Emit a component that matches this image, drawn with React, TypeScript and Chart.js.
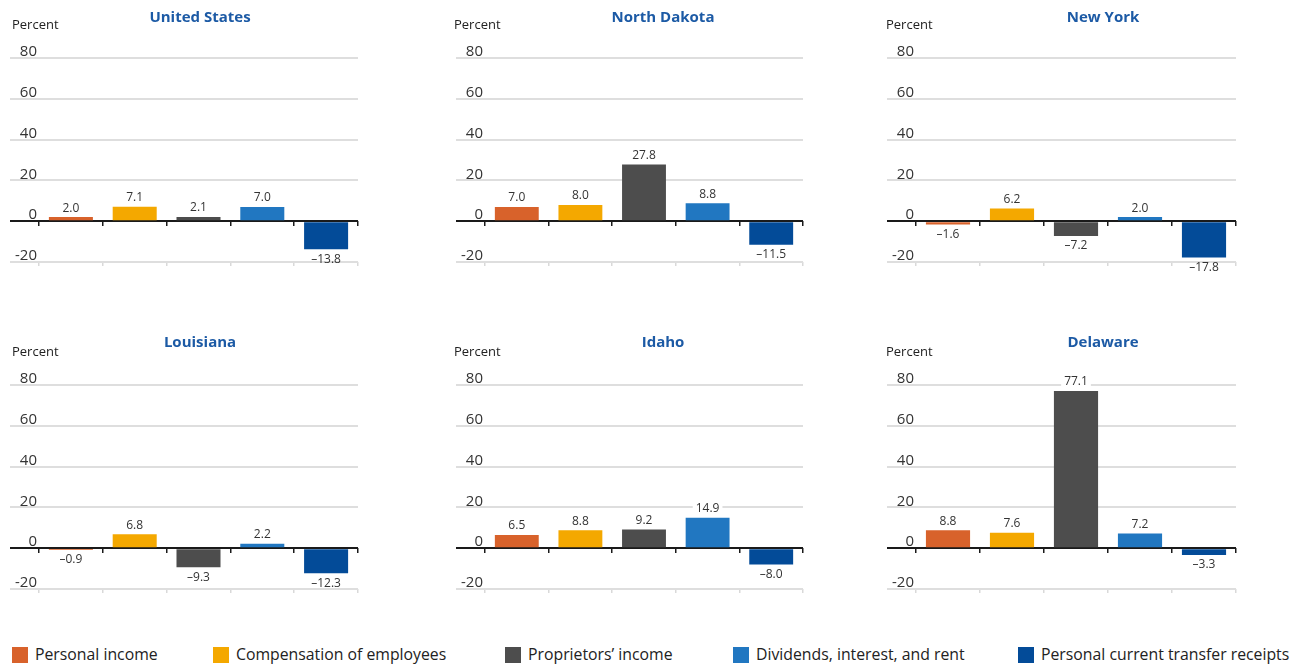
import React, { useEffect, useRef } from "react";
import { Chart, registerables } from "chart.js";

Chart.register(...registerables);

// ---------- data ----------
const categories = [
  "Personal income",
  "Compensation of employees",
  "Proprietors\u2019 income",
  "Dividends, interest, and rent",
  "Personal current transfer receipts",
];
const regions = ["United States", "North Dakota", "New York", "Louisiana", "Idaho", "Delaware"];
const unitedStates = [2.0, 7.1, 2.1, 7.0, -13.8];
const northDakota = [7.0, 8.0, 27.8, 8.8, -11.5];
const newYork = [-1.6, 6.2, -7.2, 2.0, -17.8];
const louisiana = [-0.9, 6.8, -9.3, 2.2, -12.3];
const idaho = [6.5, 8.8, 9.2, 14.9, -8.0];
const delaware = [8.8, 7.6, 77.1, 7.2, -3.3];
const regionValues = [unitedStates, northDakota, newYork, louisiana, idaho, delaware];
const yMin = -20;
const yMax = 80;
const yStep = 20;
const yAxisTitle = "Percent";

// ---------- styles / layout ----------
const colors = ["#d8622b", "#f4a800", "#4d4d4d", "#2177c1", "#034b98"];
const FONT = "'Open Sans', 'Noto Sans', sans-serif";
const colLeft = [0, 446, 877];
const colWidth = [400, 434, 452];
const colRightPad = [42, 77, 93];
const colPercentDx = [-27, -31, -30];
const rowTop = [0, 327];
const rowTitleTop = [9, 7];
const TITLE_SIZE = 15;
const CANVAS_H = 280;
const legendLeft = [12, 213, 505, 733, 1018];

const fmt = (v: number) => (v < 0 ? "\u2013" + Math.abs(v).toFixed(1) : v.toFixed(1));

const valueLabels = {
  id: "valueLabels",
  afterDatasetsDraw(chart: any) {
    const ctx = chart.ctx;
    const meta = chart.getDatasetMeta(0);
    const data = chart.data.datasets[0].data as number[];
    ctx.save();
    ctx.font = `12px ${FONT}`;
    ctx.textAlign = "center";
    ctx.textBaseline = "middle";
    meta.data.forEach((bar: any, i: number) => {
      const v = data[i];
      const text = fmt(v);
      const w = ctx.measureText(text).width;
      const y = v >= 0 ? bar.y - 9 : bar.y + 10;
      if (v >= 0) {
        ctx.fillStyle = "#ffffff";
        ctx.fillRect(bar.x - w / 2 - 3, y - 6, w + 6, 12);
      }
      ctx.fillStyle = "#333333";
      ctx.fillText(text, bar.x, y);
    });
    ctx.restore();
  },
};

const makePercentLabel = (dx: number) => ({
  id: "percentLabel",
  afterDraw(chart: any) {
    const ctx = chart.ctx;
    const ca = chart.chartArea;
    ctx.save();
    ctx.font = `13px ${FONT}`;
    ctx.fillStyle = "#222222";
    ctx.textAlign = "left";
    ctx.textBaseline = "middle";
    ctx.fillText(yAxisTitle, ca.left + dx, ca.top - 33);
    ctx.restore();
  },
});

function Panel({ index }: { index: number }) {
  const ref = useRef<HTMLCanvasElement>(null);
  const col = index % 3;
  const row = Math.floor(index / 3);
  const width = colWidth[col];
  useEffect(() => {
    const titleTop = rowTitleTop[row];
    const chart = new Chart(ref.current as HTMLCanvasElement, {
      type: "bar",
      data: {
        labels: categories,
        datasets: [
          {
            data: regionValues[index],
            backgroundColor: colors,
            borderWidth: 0,
            categoryPercentage: 1,
            barPercentage: 0.69,
          },
        ],
      },
      options: {
        responsive: false,
        animation: false,
        devicePixelRatio: 1,
        layout: { padding: { left: 0, right: 0, top: 0, bottom: 8 } },
        plugins: {
          legend: { display: false },
          tooltip: { enabled: false },
          title: {
            display: true,
            text: regions[index],
            color: "#1c5aa5",
            font: { family: FONT, size: TITLE_SIZE, weight: "bold" },
            padding: { top: titleTop, bottom: 58 - titleTop - TITLE_SIZE * 1.2 },
          },
        },
        scales: {
          x: {
            type: "category",
            offset: true,
            border: { display: false },
            grid: {
              offset: true,
              drawOnChartArea: false,
              drawTicks: true,
              tickLength: 4,
              color: "#d9d9d9",
              lineWidth: 1.5,
            },
            ticks: { display: false },
            afterFit: (s: any) => {
              s.height = 10;
            },
          },
          x2: {
            type: "category",
            position: { y: 0 } as any,
            offset: true,
            border: { display: false },
            grid: {
              offset: true,
              drawOnChartArea: false,
              drawTicks: true,
              tickLength: 5,
              color: "#1a1a1a",
              lineWidth: 1.5,
            },
            ticks: { display: false },
          },
          y: {
            min: yMin,
            max: yMax,
            border: { display: false },
            grid: {
              color: (c: any) => (c.tick && c.tick.value === 0 ? "#1a1a1a" : "#dedede"),
              tickColor: (c: any) => (c.tick && c.tick.value === 0 ? "#1a1a1a" : "#dedede"),
              lineWidth: 2,
              tickLength: 29,
              drawTicks: true,
            },
            ticks: {
              stepSize: yStep,
              padding: -27,
              labelOffset: -6,
              color: "#333333",
              font: { family: FONT, size: 15 },
              callback: (v: any) => String(v),
            },
            afterFit: (s: any) => {
              s.width = 39;
              s.paddingTop = 0;
              s.paddingBottom = 0;
            },
          },
          yRight: {
            type: "linear",
            position: "right",
            min: yMin,
            max: yMax,
            border: { display: false },
            grid: { display: false, drawTicks: false },
            ticks: { display: false },
            afterFit: (s: any) => {
              s.width = colRightPad[col];
              s.paddingTop = 0;
              s.paddingBottom = 0;
            },
          },
        },
      },
      plugins: [valueLabels, makePercentLabel(colPercentDx[col])],
    });
    return () => chart.destroy();
  }, []);
  return (
    <canvas
      ref={ref}
      width={width}
      height={CANVAS_H}
      style={{
        position: "absolute",
        left: colLeft[col],
        top: rowTop[row],
        width,
        height: CANVAS_H,
        display: "block",
      }}
    />
  );
}

export default function App() {
  return (
    <div
      style={{
        position: "fixed",
        left: 0,
        top: 0,
        width: 1299,
        height: 666,
        overflow: "hidden",
        background: "#ffffff",
        fontFamily: FONT,
      }}
    >
      {regions.map((_, i) => (
        <Panel key={i} index={i} />
      ))}
      {categories.map((c, i) => (
        <div
          key={c}
          style={{
            position: "absolute",
            left: legendLeft[i],
            top: 646,
            height: 17,
            display: "flex",
            alignItems: "center",
            whiteSpace: "nowrap",
          }}
        >
          <span style={{ display: "inline-block", width: 16, height: 16, background: colors[i] }} />
          <span style={{ marginLeft: 7, fontSize: 15.8, color: "#222222", lineHeight: "17px" }}>{c}</span>
        </div>
      ))}
    </div>
  );
}
